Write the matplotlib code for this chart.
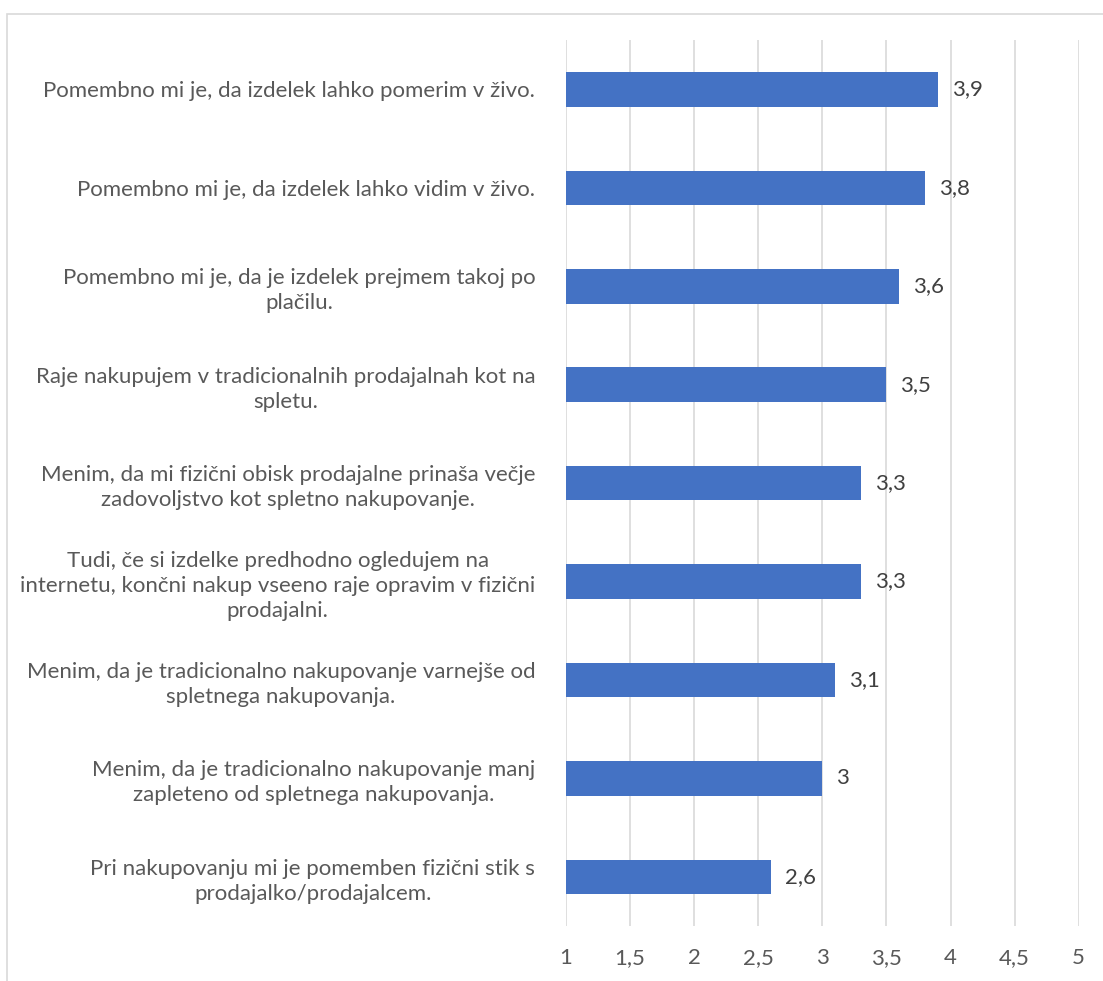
import matplotlib.pyplot as plt
from matplotlib.patches import Rectangle

KATEGORIJE = [
    'Pomembno mi je, da izdelek lahko pomerim v živo.',
    'Pomembno mi je, da izdelek lahko vidim v živo.',
    'Pomembno mi je, da je izdelek prejmem takoj po\nplačilu.',
    'Raje nakupujem v tradicionalnih prodajalnah kot na\nspletu.',
    'Menim, da mi fizični obisk prodajalne prinaša večje\nzadovoljstvo kot spletno nakupovanje.',
    'Tudi, če si izdelke predhodno ogledujem na\ninternetu, končni nakup vseeno raje opravim v fizični\nprodajalni.',
    'Menim, da je tradicionalno nakupovanje varnejše od\nspletnega nakupovanja.',
    'Menim, da je tradicionalno nakupovanje manj\nzapleteno od spletnega nakupovanja.',
    'Pri nakupovanju mi je pomemben fizični stik s\nprodajalko/prodajalcem.',
]
VREDNOSTI = [3.9, 3.8, 3.6, 3.5, 3.3, 3.3, 3.1, 3.0, 2.6]
X_TICKS = [1, 1.5, 2, 2.5, 3, 3.5, 4, 4.5, 5]

BARVA = '#4472c4'
SIVA = '#595959'

plt.rcParams['font.family'] = ['Lato', 'DejaVu Sans']

fig = plt.figure(figsize=(11.03, 9.81), dpi=100)
ax = fig.add_axes([0.513, 0.056, 0.465, 0.903])

# okvir grafa
fig.patches.append(Rectangle((7 / 1103, -0.1), 1.2, 1.1 - 14 / 981,
                             transform=fig.transFigure, fill=False,
                             edgecolor='#d9d9d9', linewidth=1.2))

poz = list(range(len(KATEGORIJE)))
zacetek = X_TICKS[0]
ax.barh(poz, [v - zacetek for v in VREDNOSTI], left=zacetek, height=0.35,
        color=BARVA, zorder=3)

for p, v in zip(poz, VREDNOSTI):
    oznaka = f'{v:g}'.replace('.', ',')
    ax.annotate(oznaka, (v, p), xytext=(10, 0), textcoords='offset points',
                va='center', ha='left', fontsize=16, color='#404040')

ax.set_xlim(1, 5)
ax.set_ylim(len(KATEGORIJE) - 0.5, -0.5)
ax.set_xticks(X_TICKS)
ax.set_xticklabels([f'{t:g}'.replace('.', ',') for t in X_TICKS],
                   fontsize=16, color=SIVA)
ax.set_yticks(poz)
ax.set_yticklabels(KATEGORIJE, fontsize=16, color=SIVA,
                   multialignment='center', linespacing=1.3)

ax.tick_params(axis='both', length=0)
ax.tick_params(axis='x', pad=16)
ax.tick_params(axis='y', pad=22)
ax.grid(axis='x', color='#d9d9d9', linewidth=1.2, zorder=0)
for s in ax.spines.values():
    s.set_visible(False)

fig.savefig('out.png', dpi=100)
